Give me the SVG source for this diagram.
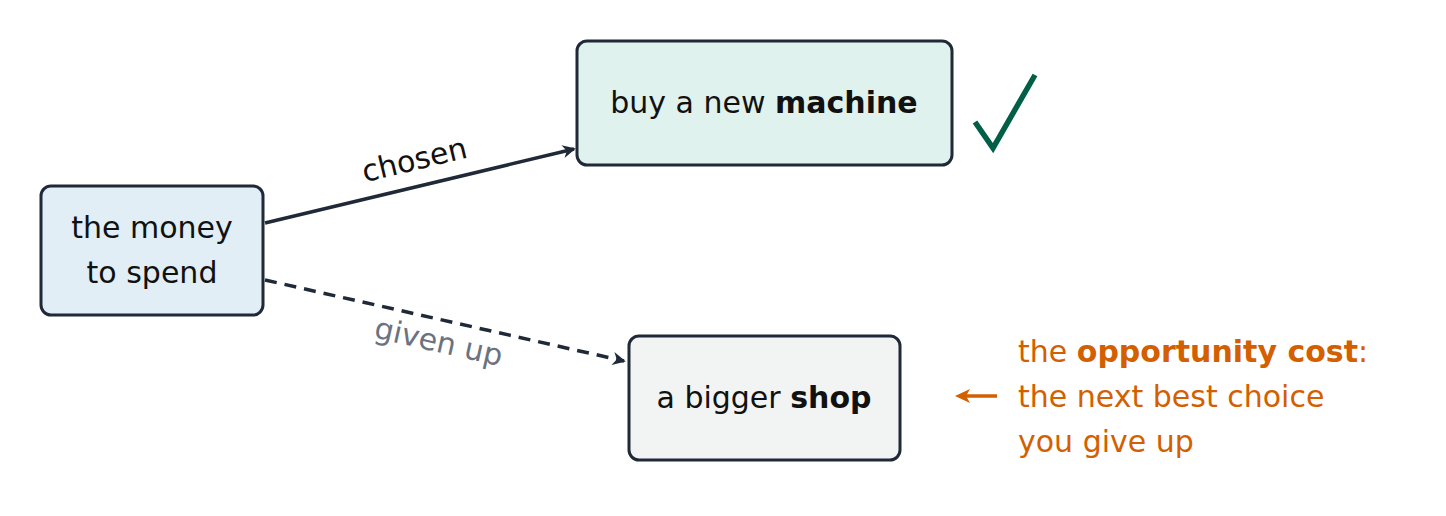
<svg xmlns="http://www.w3.org/2000/svg" width="1446" height="516" viewBox="0 0 1446 516">
<style>
.n{stroke:#1f2937;stroke-width:3}
text{font-family:"DejaVu Sans",sans-serif;font-size:30px;fill:#111}
.e{stroke:#1f2937;stroke-width:3.5;fill:none}
.o{fill:#d35f00}
</style>
<defs>
<marker id="a" viewBox="0 0 10 10" refX="9" refY="5" markerWidth="6" markerHeight="6" orient="auto" markerUnits="userSpaceOnUse" style="overflow:visible"><path d="M0,0 L10,5 L0,10 L3,5 Z" fill="#1f2937" transform="scale(2.2) translate(-4.5,-2.7)"/></marker>
</defs>
<g id="money"><rect class="n" x="41" y="186" width="222" height="129" rx="10" fill="#e1eef5"/>
<text x="152" y="238" text-anchor="middle">the money</text><text x="152" y="283" text-anchor="middle">to spend</text></g>
<g id="machine"><rect class="n" x="577" y="41" width="375" height="124" rx="10" fill="#e0f2ee"/>
<text x="764" y="113" text-anchor="middle">buy a new <tspan font-weight="bold">machine</tspan></text></g>
<g id="shop"><rect class="n" x="629" y="336" width="271" height="124" rx="10" fill="#f2f4f3"/>
<text x="764" y="408" text-anchor="middle">a bigger <tspan font-weight="bold">shop</tspan></text></g>
<g id="check"><path d="M975,122 L993,148 L1035,75" fill="none" stroke="#005f46" stroke-width="5.5"/></g>
<g id="connectors">
<path class="e" d="M265,223 L574,149" marker-end="url(#a)"/>
<text x="415" y="170" text-anchor="middle" font-size="24" fill="#1f2937" transform="rotate(-13.5 415 163)">chosen</text>
<path class="e" d="M265,280 L624,361" stroke-dasharray="12,8" marker-end="url(#a)"/>
<text x="438" y="352" text-anchor="middle" font-size="24" style="fill:#6b7280" transform="rotate(12.7 438 345)">given up</text>
<path d="M997,396 L960,396" stroke="#d35f00" stroke-width="3.5"/>
<path d="M955,396 L970,389 L966,396 L970,403 Z" fill="#d35f00"/>
</g>
<g id="note">
<text class="o" x="1018" y="362">the <tspan font-weight="bold">opportunity cost</tspan>:</text>
<text class="o" x="1018" y="407">the next best choice</text>
<text class="o" x="1018" y="452">you give up</text>
</g>
</svg>
